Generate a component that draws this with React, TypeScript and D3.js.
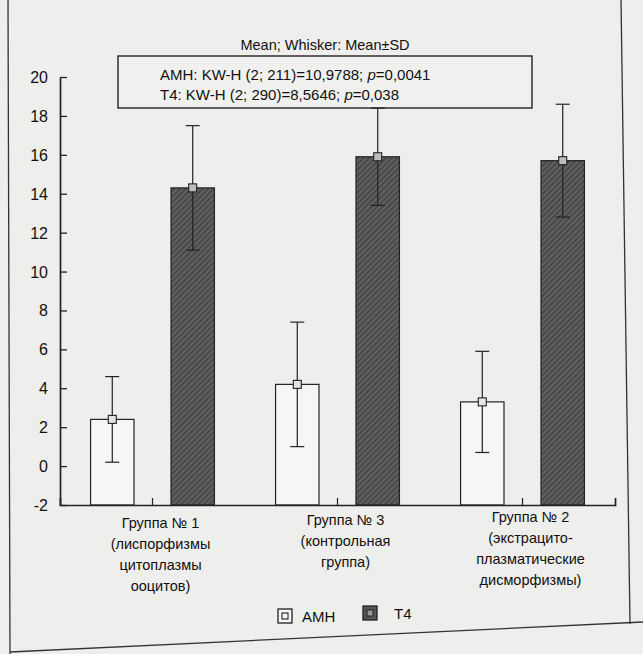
import React, { useEffect, useRef } from 'react';
import * as d3 from 'd3';

// data
const groups = ['g1', 'g3', 'g2'];
const groupLabels = [
  ['Группа № 1', '(лиспорфизмы', 'цитоплазмы', 'ооцитов)'],
  ['Группа № 3', '(контрольная', 'группа)'],
  ['Группа № 2', '(экстрацито-', 'плазматические', 'дисморфизмы)'],
];
const series = ['AMH', 'T4'];
const amhMean = [2.4, 4.2, 3.3];
const amhSd = [2.2, 3.2, 2.6];
const t4Mean = [14.3, 15.9, 15.7];
const t4Sd = [3.2, 2.5, 2.9];
const yTicks = [-2, 0, 2, 4, 6, 8, 10, 12, 14, 16, 18, 20];
const noteTitle = 'Mean; Whisker: Mean±SD';

const FONT = '"Liberation Sans", Arial, sans-serif';

const App = () => {
  const svgRef = useRef<SVGSVGElement | null>(null);

  useEffect(() => {
    const svg = d3.select(svgRef.current);
    svg.selectAll('*').remove(); // clear previous render

    const width = 643;
    const height = 654;

    // paper background
    svg.append('rect').attr('width', width).attr('height', height).attr('fill', '#eeeeec');

    // hatch for the T4 bars
    const defs = svg.append('defs');
    const pat = defs.append('pattern')
      .attr('id', 'hatch')
      .attr('patternUnits', 'userSpaceOnUse')
      .attr('width', 4).attr('height', 4)
      .attr('patternTransform', 'rotate(-45)');
    pat.append('rect').attr('width', 4).attr('height', 4).attr('fill', '#606060');
    pat.append('rect').attr('width', 4).attr('height', 1.5).attr('fill', '#424242');

    // page frame lines (photo of a printed page)
    const frame = svg.append('g').attr('stroke', '#333').attr('fill', 'none').attr('stroke-width', 1.3);
    frame.append('line').attr('x1', 8).attr('y1', 0).attr('x2', 10).attr('y2', 654);
    frame.append('line').attr('x1', 621).attr('y1', 0).attr('x2', 630).attr('y2', 624);
    frame.append('line').attr('x1', 10).attr('y1', 652).attr('x2', 643).attr('y2', 622);

    const x0 = d3.scaleBand().domain(groups).range([60, 615]).paddingInner(0).paddingOuter(0);
    const x1 = d3.scaleBand().domain(series).range([0, x0.bandwidth()]).paddingInner(0.46).paddingOuter(0.38);
    const y = d3.scaleLinear().domain([-2, 20]).range([505, 77]);

    const rows = groups.flatMap((g, i) => [
      { g, s: 'AMH', mean: amhMean[i], sd: amhSd[i] },
      { g, s: 'T4', mean: t4Mean[i], sd: t4Sd[i] },
    ]);

    // statistics note (drawn first, whiskers pass just under it)
    svg.append('text')
      .attr('x', 325).attr('y', 50)
      .attr('text-anchor', 'middle')
      .attr('font-family', FONT).attr('font-size', 14.5).attr('fill', '#111')
      .text(noteTitle);
    svg.append('rect')
      .attr('x', 118).attr('y', 56).attr('width', 414).attr('height', 52)
      .attr('fill', '#f0f0ee').attr('stroke', '#222').attr('stroke-width', 1.4);
    const note = svg.append('g').attr('font-family', FONT).attr('font-size', 15).attr('fill', '#111');
    const l1 = note.append('text').attr('x', 160).attr('y', 80);
    l1.append('tspan').text('AMH: KW-H (2; 211)=10,9788; ');
    l1.append('tspan').attr('font-style', 'italic').text('p');
    l1.append('tspan').text('=0,0041');
    const l2 = note.append('text').attr('x', 160).attr('y', 100);
    l2.append('tspan').text('T4: KW-H (2; 290)=8,5646; ');
    l2.append('tspan').attr('font-style', 'italic').text('p');
    l2.append('tspan').text('=0,038');

    // bars
    svg.append('g').selectAll('rect')
      .data(rows)
      .enter()
      .append('rect')
      .attr('x', d => (x0(d.g) as number) + (x1(d.s) as number))
      .attr('y', d => y(d.mean))
      .attr('width', x1.bandwidth())
      .attr('height', d => y(-2) - y(d.mean))
      .attr('fill', d => (d.s === 'T4' ? 'url(#hatch)' : '#f6f6f4'))
      .attr('stroke', '#222')
      .attr('stroke-width', 1.2);

    // whiskers: mean ± SD
    const cx = (d: any) => (x0(d.g) as number) + (x1(d.s) as number) + x1.bandwidth() / 2;
    const wk = svg.append('g').attr('stroke', '#222').attr('stroke-width', 1.2).attr('fill', 'none');
    rows.forEach(d => {
      const c = cx(d);
      wk.append('line').attr('x1', c).attr('x2', c).attr('y1', y(d.mean + d.sd)).attr('y2', y(d.mean - d.sd));
      wk.append('line').attr('x1', c - 7).attr('x2', c + 7).attr('y1', y(d.mean + d.sd)).attr('y2', y(d.mean + d.sd));
      wk.append('line').attr('x1', c - 7).attr('x2', c + 7).attr('y1', y(d.mean - d.sd)).attr('y2', y(d.mean - d.sd));
      // mean marker
      svg.append('rect')
        .attr('x', c - 4).attr('y', y(d.mean) - 4)
        .attr('width', 8).attr('height', 8)
        .attr('fill', d.s === 'T4' ? '#bdbdbd' : '#e4e4e2')
        .attr('stroke', '#222').attr('stroke-width', 1.1);
    });

    // Y axis, ticks pointing inward
    const yAxis = svg.append('g')
      .attr('transform', 'translate(60,0)')
      .call(d3.axisRight(y).tickValues(yTicks).tickSize(7).tickSizeOuter(0).tickFormat(() => ''));
    yAxis.select('.domain').attr('stroke', '#222').attr('stroke-width', 1.7);
    yAxis.selectAll('.tick line').attr('stroke', '#222').attr('stroke-width', 1.3);
    svg.append('g').selectAll('text')
      .data(yTicks)
      .enter()
      .append('text')
      .attr('x', 48)
      .attr('y', d => y(d) + 6)
      .attr('text-anchor', 'end')
      .attr('font-family', FONT)
      .attr('font-size', 16)
      .attr('fill', '#111')
      .text(d => String(d));

    // X axis, category ticks pointing up
    const xAxis = svg.append('g')
      .attr('transform', `translate(0,${y(-2)})`)
      .call(d3.axisTop(x0).tickSize(7).tickSizeOuter(7).tickFormat(() => ''));
    xAxis.select('.domain').attr('stroke', '#222').attr('stroke-width', 1.7);
    xAxis.selectAll('.tick line').attr('stroke', '#222').attr('stroke-width', 1.2);

    // category labels
    const lab = svg.append('g')
      .attr('font-family', FONT).attr('font-size', 14.5).attr('fill', '#111').attr('text-anchor', 'middle');
    groups.forEach((g, i) => {
      const mid = (x0(g) as number) + x0.bandwidth() / 2 + 8;
      const t = lab.append('text').attr('x', mid).attr('y', 528 - i * 3);
      groupLabels[i].forEach((line, k) => {
        t.append('tspan').attr('x', mid).attr('dy', k === 0 ? 0 : 21).text(line);
      });
    });

    // legend
    const leg = svg.append('g').attr('font-family', FONT).attr('font-size', 15).attr('fill', '#111');
    leg.append('rect').attr('x', 278).attr('y', 609).attr('width', 14).attr('height', 14)
      .attr('fill', '#f6f6f4').attr('stroke', '#222').attr('stroke-width', 1.3);
    leg.append('rect').attr('x', 282).attr('y', 613).attr('width', 6).attr('height', 6)
      .attr('fill', 'none').attr('stroke', '#222').attr('stroke-width', 1.1);
    leg.append('text').attr('x', 302).attr('y', 622).text(series[0]);
    leg.append('rect').attr('x', 363).attr('y', 606).attr('width', 14).attr('height', 14)
      .attr('fill', '#555').attr('stroke', '#222').attr('stroke-width', 1.3);
    leg.append('rect').attr('x', 367).attr('y', 610).attr('width', 6).attr('height', 6)
      .attr('fill', '#999').attr('stroke', '#222').attr('stroke-width', 1);
    leg.append('text').attr('x', 394).attr('y', 619).text(series[1]);
  }, []);

  return <svg ref={svgRef} width={643} height={654} style={{ display: 'block', position: 'absolute', left: 0, top: 0 }}></svg>;
};

export default App;
